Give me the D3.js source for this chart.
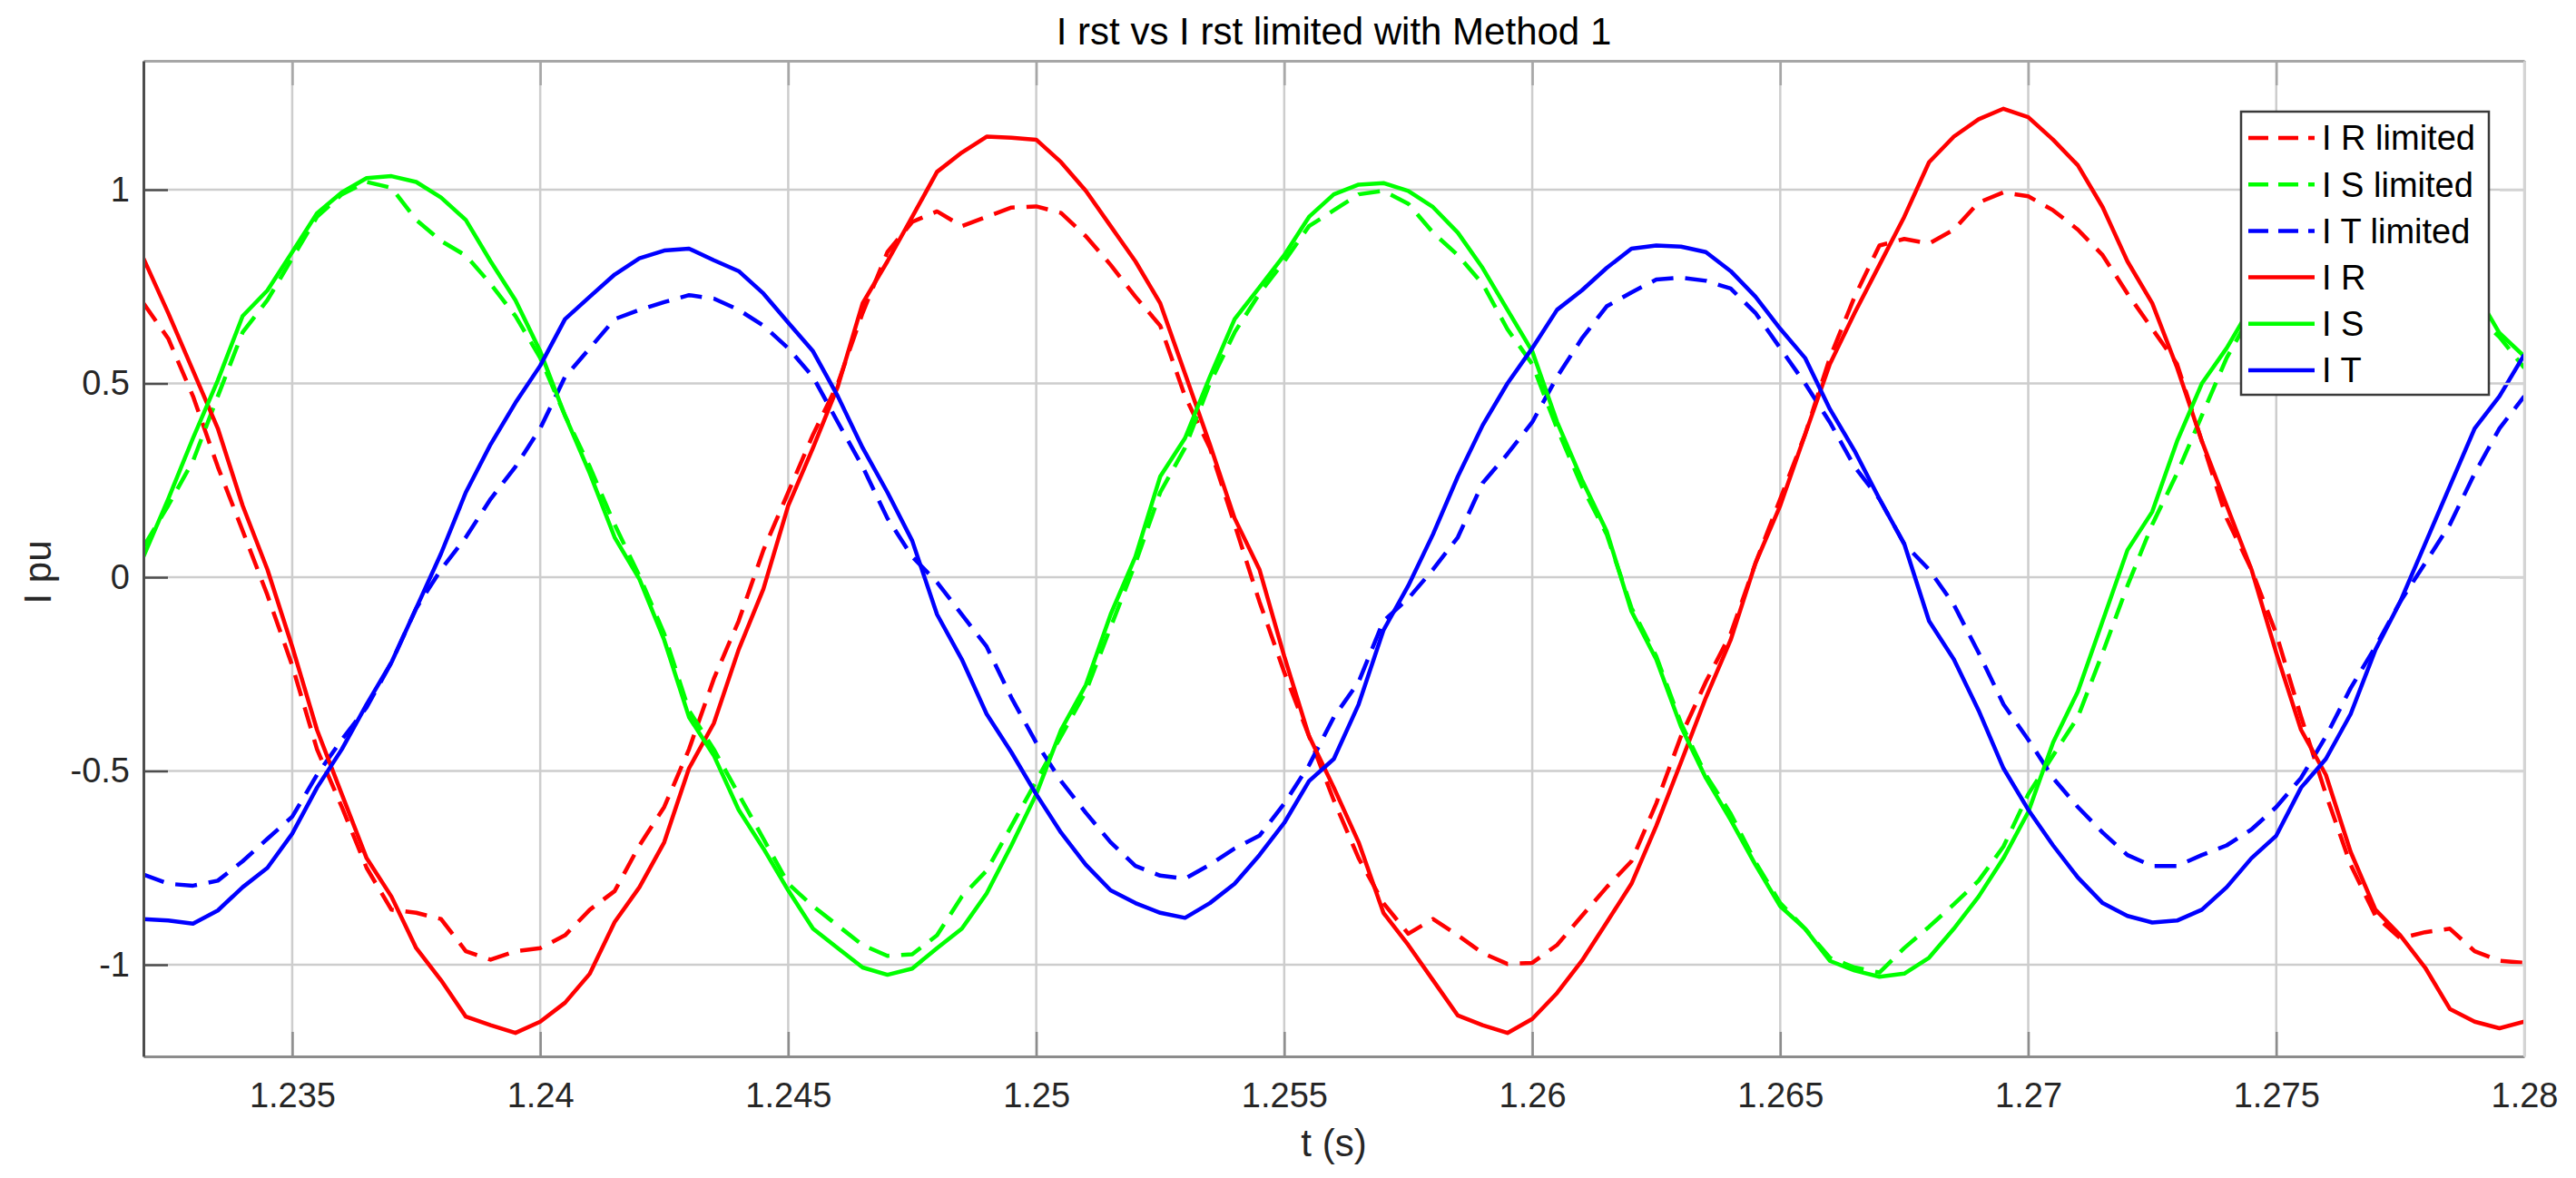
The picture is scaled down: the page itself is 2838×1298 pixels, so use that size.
<!DOCTYPE html>
<html>
<head>
<meta charset="utf-8">
<script src="https://cdn.jsdelivr.net/npm/d3@7"></script>
<style>
  body { margin: 0; background: #fff; }
  text { font-family: "Liberation Sans", Arial, sans-serif; }
</style>
</head>
<body>
<script>
// sample times: 1.232 s .. 1.28 s, one sample every 0.5 ms
var tStart = 1.232, tStep = 0.0005;

var irLim = [0.707,0.616,0.467,0.285,0.12,-0.046,-0.228,-0.444,-0.593,-0.75,-0.858,-0.866,-0.882,-0.965,-0.987,-0.965,-0.957,-0.924,-0.858,-0.81,
  -0.692,-0.593,-0.444,-0.262,-0.113,0.07,0.219,0.368,0.5,0.682,0.839,0.917,0.944,0.906,0.93,0.954,0.957,0.94,0.88,0.806,
  0.724,0.649,0.467,0.334,0.136,-0.063,-0.245,-0.41,-0.576,-0.725,-0.841,-0.92,-0.882,-0.924,-0.97,-0.998,-0.995,-0.949,-0.874,
  -0.8,-0.733,-0.584,-0.41,-0.27,-0.146,0.036,0.202,0.368,0.566,0.724,0.856,0.873,0.861,0.897,0.967,0.993,0.983,
  0.947,0.897,0.831,0.732,0.641,0.55,0.351,0.152,0.02,-0.146,-0.36,-0.56,-0.742,-0.874,-0.932,-0.916,-0.907,-0.965,-0.99,-0.995];

var isLim = [0.078,0.185,0.3,0.467,0.632,0.715,0.823,0.93,0.988,1.02,1.005,0.922,0.868,0.83,0.757,0.674,0.566,0.417,0.285,0.136,
  0.003,-0.146,-0.344,-0.444,-0.56,-0.675,-0.791,-0.849,-0.899,-0.949,-0.977,-0.973,-0.924,-0.824,-0.757,-0.642,-0.526,-0.41,-0.295,-0.129,
  0.036,0.219,0.334,0.5,0.632,0.732,0.815,0.906,0.947,0.988,0.997,0.964,0.889,0.831,0.757,0.64,0.55,0.384,0.235,
  0.111,-0.079,-0.204,-0.377,-0.51,-0.61,-0.735,-0.841,-0.907,-0.982,-1.007,-1.02,-0.957,-0.902,-0.844,-0.783,-0.695,-0.56,
  -0.46,-0.361,-0.195,-0.022,0.136,0.268,0.417,0.566,0.68,0.8,0.9,0.96,0.99,0.99,0.95,0.88,0.79,0.68,0.62,0.54];

var itLim = [-0.767,-0.791,-0.796,-0.783,-0.733,-0.675,-0.618,-0.51,-0.419,-0.336,-0.22,-0.08,0.02,0.103,0.202,0.285,0.384,0.517,0.591,0.666,
  0.69,0.71,0.728,0.719,0.69,0.649,0.591,0.517,0.4,0.285,0.152,0.053,-0.013,-0.096,-0.179,-0.311,-0.427,-0.526,-0.608,-0.684,
  -0.745,-0.77,-0.778,-0.742,-0.7,-0.667,-0.584,-0.485,-0.361,-0.27,-0.113,-0.055,0.02,0.103,0.243,0.318,0.4,0.517,0.616,
  0.699,0.735,0.768,0.773,0.765,0.745,0.682,0.591,0.5,0.4,0.285,0.202,0.086,0.02,-0.071,-0.195,-0.328,-0.419,
  -0.518,-0.593,-0.659,-0.717,-0.745,-0.745,-0.717,-0.692,-0.651,-0.593,-0.518,-0.411,-0.286,-0.179,-0.063,0.036,0.136,0.268,0.384,0.467];

var ir = [0.823,0.682,0.533,0.384,0.185,0.02,-0.179,-0.394,-0.56,-0.725,-0.824,-0.957,-1.04,-1.134,-1.156,-1.176,-1.147,-1.098,-1.023,-0.89,
  -0.8,-0.684,-0.493,-0.377,-0.187,-0.03,0.185,0.334,0.492,0.707,0.815,0.93,1.046,1.096,1.137,1.134,1.129,1.071,0.997,0.906,
  0.815,0.707,0.525,0.343,0.152,0.02,-0.204,-0.41,-0.543,-0.684,-0.866,-0.949,-1.04,-1.131,-1.156,-1.176,-1.14,-1.073,-0.99,
  -0.891,-0.791,-0.642,-0.477,-0.311,-0.162,0.036,0.185,0.368,0.55,0.682,0.806,0.93,1.071,1.137,1.182,1.209,1.187,
  1.129,1.063,0.955,0.815,0.707,0.541,0.351,0.185,0.02,-0.195,-0.394,-0.51,-0.709,-0.858,-0.924,-1.007,-1.114,-1.147,-1.164,-1.147];

var is = [0.053,0.202,0.359,0.508,0.674,0.74,0.839,0.939,0.993,1.03,1.035,1.02,0.98,0.922,0.815,0.715,0.583,0.417,0.268,0.103,
  -0.005,-0.162,-0.361,-0.46,-0.6,-0.7,-0.808,-0.907,-0.957,-1.007,-1.026,-1.01,-0.957,-0.907,-0.816,-0.692,-0.56,-0.394,-0.278,-0.096,
  0.053,0.26,0.359,0.517,0.666,0.748,0.831,0.93,0.988,1.013,1.017,0.997,0.955,0.889,0.798,0.69,0.583,0.401,0.252,
  0.119,-0.088,-0.212,-0.386,-0.518,-0.626,-0.742,-0.849,-0.907,-0.99,-1.015,-1.031,-1.023,-0.982,-0.907,-0.824,-0.725,-0.606,
  -0.427,-0.295,-0.113,0.07,0.169,0.351,0.5,0.591,0.7,0.83,0.93,0.99,1.02,1.02,0.98,0.91,0.83,0.74,0.63,0.57];

var it = [-0.882,-0.886,-0.894,-0.86,-0.8,-0.75,-0.662,-0.543,-0.444,-0.328,-0.22,-0.08,0.061,0.219,0.343,0.45,0.546,0.666,0.724,0.781,
  0.823,0.843,0.848,0.818,0.79,0.732,0.657,0.583,0.467,0.334,0.219,0.094,-0.096,-0.212,-0.353,-0.452,-0.56,-0.659,-0.742,-0.808,
  -0.841,-0.866,-0.879,-0.841,-0.791,-0.717,-0.634,-0.526,-0.469,-0.328,-0.137,-0.022,0.111,0.26,0.392,0.5,0.591,0.69,0.74,
  0.798,0.848,0.856,0.853,0.839,0.79,0.724,0.641,0.566,0.434,0.326,0.202,0.086,-0.113,-0.212,-0.344,-0.493,-0.6,
  -0.692,-0.775,-0.841,-0.874,-0.891,-0.886,-0.858,-0.8,-0.725,-0.667,-0.543,-0.469,-0.353,-0.187,-0.063,0.086,0.235,0.384,0.467,0.574];

var seriesNames = ["I R limited", "I S limited", "I T limited", "I R", "I S", "I T"];
var seriesColors = ["#ff0000", "#00ff00", "#0000ff", "#ff0000", "#00ff00", "#0000ff"];
var seriesDashed = [true, true, true, false, false, false];
var seriesValues = [irLim, isLim, itLim, ir, is, it];

var xTicks = [1.235, 1.24, 1.245, 1.25, 1.255, 1.26, 1.265, 1.27, 1.275, 1.28];
var xTickLabels = ["1.235", "1.24", "1.245", "1.25", "1.255", "1.26", "1.265", "1.27", "1.275", "1.28"];
var yTicks = [-1, -0.5, 0, 0.5, 1];
var yTickLabels = ["-1", "-0.5", "0", "0.5", "1"];

var W = 2838, H = 1298,
  padding = {top: 67, right: 57, bottom: 134, left: 158},
  w = W - padding.left - padding.right,
  h = H - padding.top - padding.bottom,
  tickLen = 27;

var xSc = d3.scaleLinear().domain([1.232, 1.28]).range([0, w]),
  ySc = d3.scaleLinear().domain([-1.2365, 1.3326]).range([h, 0]);

var svg = d3.select("body").append("svg")
  .attr("width", W).attr("height", H);

svg.append("rect").attr("width", W).attr("height", H).attr("fill", "#fff");

svg.append("defs").append("clipPath").attr("id", "plotClip")
  .append("rect").attr("width", w).attr("height", h);

var chart = svg.append("g")
  .attr("transform", "translate(" + padding.left + "," + padding.top + ")");

// grid
chart.append("g").selectAll("line").data(xTicks).enter().append("line")
  .attr("x1", function(d) { return xSc(d); }).attr("x2", function(d) { return xSc(d); })
  .attr("y1", 0).attr("y2", h)
  .attr("stroke", "#cdcdcd").attr("stroke-width", 2.5);

chart.append("g").selectAll("line").data(yTicks).enter().append("line")
  .attr("x1", 0).attr("x2", w)
  .attr("y1", function(d) { return ySc(d); }).attr("y2", function(d) { return ySc(d); })
  .attr("stroke", "#cdcdcd").attr("stroke-width", 2.5);

// curves, limited (dashed) first, then the solid ones on top
var line = d3.line()
  .x(function(d, i) { return xSc(tStart + i * tStep); })
  .y(function(d) { return ySc(d); });

var curves = chart.append("g").attr("clip-path", "url(#plotClip)");
seriesValues.forEach(function(vals, k) {
  curves.append("path")
    .attr("d", line(vals))
    .attr("fill", "none")
    .attr("stroke", seriesColors[k])
    .attr("stroke-width", 4.5)
    .attr("stroke-linejoin", "round")
    .attr("stroke-dasharray", seriesDashed[k] ? "24,13" : null);
});

// axes
function styleAxis(g, color) {
  g.select(".domain").attr("stroke", color).attr("stroke-width", 3);
  g.selectAll(".tick line").attr("stroke", color).attr("stroke-width", 2.5);
  g.selectAll(".tick text").attr("fill", "#262626").attr("font-size", 38)
    .attr("font-family", "Liberation Sans, Arial, sans-serif");
}

chart.append("g")
  .attr("transform", "translate(0," + h + ")")
  .call(d3.axisBottom(xSc).tickValues(xTicks).tickSize(-tickLen).tickSizeOuter(0).tickPadding(29)
    .tickFormat(function(d, i) { return xTickLabels[i]; }))
  .call(styleAxis, "#8c8c8c");

chart.append("g")
  .call(d3.axisTop(xSc).tickValues(xTicks).tickSize(-tickLen).tickSizeOuter(0).tickFormat(""))
  .call(styleAxis, "#a6a6a6");

chart.append("g")
  .attr("transform", "translate(" + w + ",0)")
  .call(d3.axisRight(ySc).tickValues(yTicks).tickSize(-tickLen).tickSizeOuter(0).tickFormat(""))
  .call(styleAxis, "#d4d4d4");

chart.append("g")
  .call(d3.axisLeft(ySc).tickValues(yTicks).tickSize(-tickLen).tickSizeOuter(0).tickPadding(15)
    .tickFormat(function(d, i) { return yTickLabels[i]; }))
  .call(styleAxis, "#4d4d4d");

// labels
svg.append("text")
  .attr("x", padding.left + w / 2).attr("y", 49)
  .attr("text-anchor", "middle").attr("font-size", 42).attr("fill", "#000")
  .text("I rst vs I rst limited with Method 1");

svg.append("text")
  .attr("x", padding.left + w / 2).attr("y", 1274)
  .attr("text-anchor", "middle").attr("font-size", 42).attr("fill", "#262626")
  .text("t (s)");

svg.append("text")
  .attr("transform", "translate(56," + (padding.top + h / 2 + 15) + ") rotate(-90)")
  .attr("text-anchor", "middle").attr("font-size", 42).attr("fill", "#262626")
  .text("I pu");

// legend
var legend = svg.append("g").attr("transform", "translate(2469,123)");
legend.append("rect")
  .attr("width", 273).attr("height", 312)
  .attr("fill", "#fff").attr("stroke", "#3a3a3a").attr("stroke-width", 2.5);

var rows = legend.selectAll("g.row").data(seriesNames).enter().append("g")
  .attr("class", "row")
  .attr("transform", function(d, i) { return "translate(0," + (29 + i * 51.2) + ")"; });

rows.append("line")
  .attr("x1", 8).attr("x2", 81).attr("y1", 0).attr("y2", 0)
  .attr("stroke", function(d, i) { return seriesColors[i]; })
  .attr("stroke-width", 4.5)
  .attr("stroke-dasharray", function(d, i) { return seriesDashed[i] ? "22,11" : null; });

rows.append("text")
  .attr("x", 89).attr("dy", "0.35em")
  .attr("font-size", 38).attr("fill", "#000")
  .text(function(d) { return d; });
</script>
</body>
</html>
